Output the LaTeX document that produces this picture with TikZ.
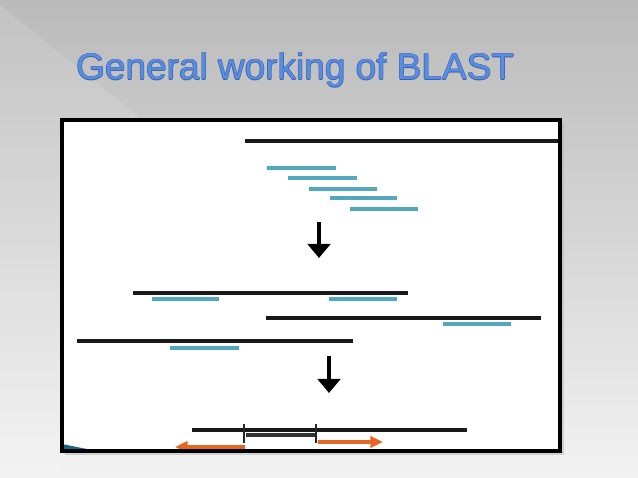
\documentclass[tikz,border=0pt]{standalone}
\usepackage{fontspec}
\setmainfont{Liberation Sans}
\usetikzlibrary{arrows.meta}
\definecolor{hitblue}{RGB}{84,168,190}
\definecolor{extorange}{RGB}{228,102,34}
\definecolor{titleblue}{RGB}{86,140,226}
\definecolor{titleline}{RGB}{60,96,170}
\definecolor{wedge}{RGB}{22,104,132}
\begin{document}
\begin{tikzpicture}[
  x=0.025cm, y=-0.025cm,
  seq/.style={line width=2.6pt,black!90},
  hit/.style={line width=2.8pt,hitblue},
  arr/.style={-{Triangle[width=16pt,length=10pt]},line width=2.8pt},
  ext/.style={-{Triangle[width=8pt,length=9pt]},line width=2.2pt,extorange},
  tick/.style={line width=1.3pt,black!85},
  titlefont/.style={font=\fontsize{26.3pt}{30pt}\selectfont,anchor=base west,inner sep=0pt}
]
\useasboundingbox (0,0) rectangle (638,478);
% slide background
\shade[top color=black!27,bottom color=black!5] (0,0) rectangle (638,478);
\fill[white,opacity=0.12] (0,0) -- (0,5) -- (140,118) -- (62,118) -- (62,478) -- (0,478) -- cycle;
\foreach \dx/\dy in {-0.6/0,0.6/0,0/-0.6,0/0.6}
  \node[titlefont,text=titleline] at (76+\dx,80+\dy) {General working of BLAST};
\node[titlefont,text=titleblue] (title) at (76,80) {General working of BLAST};
% figure panel
\fill[black!30,opacity=0.5] (65,123) rectangle (564,455);
\fill[white] (62,120) rectangle (560,451);
\begin{scope}
\clip (62,120) rectangle (560,451);
\fill[wedge] (62,444) -- (97,451) -- (62,451) -- cycle;
% query and word hits
\draw[seq] (245,141) -- (560,141);
\draw[hit] (267,168) -- (336,168);
\draw[hit] (288,178) -- (357,178);
\draw[hit] (309,189) -- (377,189);
\draw[hit] (330,198) -- (397,198);
\draw[hit] (350,209) -- (418,209);
% database sequences with hits
\draw[seq] (133,293) -- (408,293);
\draw[hit] (152,299) -- (219,299);
\draw[hit] (329,299) -- (397,299);
\draw[seq] (266,318) -- (541,318);
\draw[hit] (443,324) -- (511,324);
\draw[seq] (77,341) -- (353,341);
\draw[hit] (170,348) -- (239,348);
% extension
\draw[seq] (192,430) -- (467,430);
\draw[line width=2.8pt,black!80] (246,435) -- (316,435);
\draw[tick] (244,424) -- (244,443);
\draw[tick] (316,424) -- (316,443);
\coordinate (ls) at (245,447);
\coordinate (le) at (175,447);
\coordinate (rs) at (318,442);
\coordinate (re) at (383,442);
\draw[ext] (ls) -- (le);
\draw[ext] (rs) -- (re);
\end{scope}
\draw[line width=2.4pt] (62,120) rectangle (560,451);
% step arrows
\coordinate (s1) at (319,222);
\coordinate (e1) at (319,258);
\coordinate (s2) at (329,356);
\coordinate (e2) at (329,393);
\draw[arr] (s1) -- (e1);
\draw[arr] (s2) -- (e2);
\end{tikzpicture}
\end{document}
